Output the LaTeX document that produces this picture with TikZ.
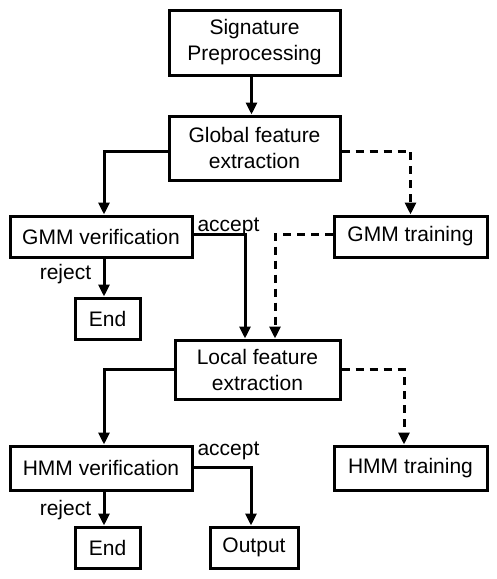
\documentclass[tikz,border=0pt]{standalone}
\usepackage{fontspec}
\setmainfont{Liberation Sans}
\usetikzlibrary{arrows.meta}

\tikzset{
	box/.style={draw, line width=3pt, inner sep=0pt, align=center,
		font=\fontsize{21}{26}\selectfont},
	flow/.style={line width=3pt, -{Triangle[width=11pt,length=12pt]}},
	train/.style={flow, dash pattern=on 8pt off 6pt},
	lbl/.style={font=\fontsize{21}{26}\selectfont, inner sep=0pt}
}

\begin{document}
\begin{tikzpicture}[x=1pt,y=-1pt]

\useasboundingbox (0,0) rectangle (497,579);

\node[box, minimum width=171, minimum height=65] (sig) at (254.5,42.5) {Signature\\Preprocessing};
\node[box, minimum width=171, minimum height=64] (glob) at (254.5,148) {Global feature\\extraction};
\node[box, minimum width=182, minimum height=41] (gmmv) at (101,236.5) {GMM verification};
\node[box, minimum width=153, minimum height=41] (gmmt) at (410.5,236.5) {GMM training};
\node[box, minimum width=65, minimum height=41] (enda) at (107.5,318.5) {End};
\node[box, minimum width=165, minimum height=59] (loc) at (257.5,369.5) {Local feature\\extraction};
\node[box, minimum width=182, minimum height=44] (hmmv) at (101,468) {HMM verification};
\node[box, minimum width=153, minimum height=44] (hmmt) at (410.5,468) {HMM training};
\node[box, minimum width=65, minimum height=41] (endb) at (107.5,547.5) {End};
\node[box, minimum width=88, minimum height=41] (out) at (254,547.5) {Output};

\node[lbl] (acca) at (228.5,227) {accept};
\node[lbl] (reja) at (65.5,274) {reject};
\node[lbl] (accb) at (228.5,451) {accept};
\node[lbl] (rejb) at (65.5,510) {reject};

\draw[flow] ([xshift=-3]sig.south) -- ([xshift=-3]glob.north);
\draw[flow] ([yshift=-3]glob.west) -| ([xshift=3]gmmv.north);
\draw[train] ([yshift=-3]glob.east) -| (gmmt.north);
\draw[flow] ([yshift=2.5]gmmv.east) -| ([xshift=-12.5]loc.north);
\draw[train] ([yshift=2.5]gmmt.west) -| ([xshift=17.5]loc.north);
\draw[flow] ([xshift=3]gmmv.south) -- ([xshift=-3.5]enda.north);
\draw[flow] (loc.west) -| ([xshift=3]hmmv.north);
\draw[train] (loc.east) -| ([xshift=-6.5]hmmt.north);
\draw[flow] ([yshift=1]hmmv.east) -| ([xshift=-3]out.north);
\draw[flow] ([xshift=3]hmmv.south) -- ([xshift=-3.5]endb.north);

\end{tikzpicture}
\end{document}
